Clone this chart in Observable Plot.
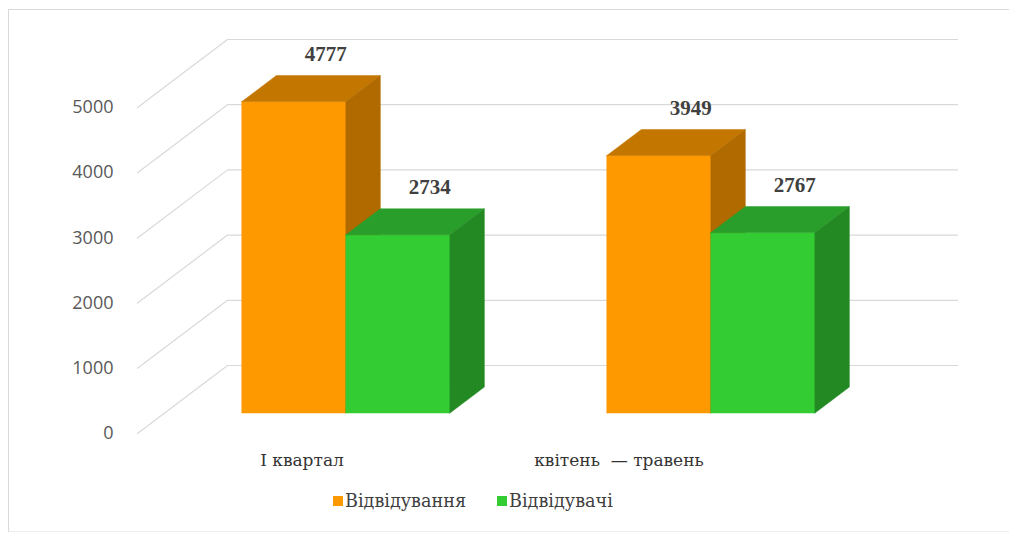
<!DOCTYPE html>
<html>
<head>
<meta charset="utf-8">
<script src="https://cdn.jsdelivr.net/npm/d3@7"></script>
<script src="https://cdn.jsdelivr.net/npm/@observablehq/plot@0.6"></script>
<style>
  html, body { margin: 0; padding: 0; background: #fff; }
  #wrap { position: relative; width: 1009px; height: 535px; overflow: hidden; }
  #frame { position: absolute; left: 8px; top: 9px; width: 1010px; height: 521px;
           border-left: 1px solid #d9d9d9; border-top: 1px solid #d9d9d9; border-bottom: 1px solid #eeeeee; }
  #chart { position: absolute; left: 0; top: 0; }
  #legend { position: absolute; left: 333px; top: 491px; display: flex; align-items: center;
            font-family: "DejaVu Serif", serif; font-size: 17.6px; color: #404040; }
  .item { display: flex; align-items: center; margin-right: 31px; }
  .sw { width: 10px; height: 10px; margin-right: 2px; }
</style>
</head>
<body>
<div id="wrap">
  <div id="frame"></div>
  <div id="chart"></div>
  <div id="legend"></div>
</div>
<script>
// ---- data ----
const categories = ["I квартал", "квітень  — травень"];
const seriesNames = ["Відвідування", "Відвідувачі"];
const visits = [4777, 3949];      // Відвідування
const visitors = [2734, 2767];    // Відвідувачі
const yTicks = [0, 1000, 2000, 3000, 4000, 5000];

// ---- styles / geometry of the 3D look ----
const frontColors = ["#ff9900", "#33cc33"];
const topColors   = ["#c47700", "#2a9e2a"];
const sideColors  = ["#b06a00", "#238a23"];
const serifCyr = "'DejaVu Serif', serif";
const DX = 90 / 365;     // full depth, x units
const DV = 1043;         // full depth, value units
const TF = 0.294;        // bar front depth
const TB = 0.676;        // bar back depth
const BW = 0.285;        // bar width in category units
const catLabelShift = [-18, -66];

const seriesValues = [visits, visitors];

const faceRows = [];
const labelRows = [];
categories.forEach((cat, i) => {
  seriesValues.forEach((vals, s) => {
    const val = vals[i];
    const a = i + 0.5 - BW + s * BW;
    const b = a + BW;
    const ap = a + TF * DX, bp = b + TF * DX;
    const base = TF * DV, V = val + TF * DV;
    const d = (TB - TF) * DX, e = (TB - TF) * DV;
    const id = `${i}-${s}`;
    faceRows.push({face: id + "f", fill: frontColors[s], x: ap, y1: base, y2: V});
    faceRows.push({face: id + "f", fill: frontColors[s], x: bp, y1: base, y2: V});
    faceRows.push({face: id + "t", fill: topColors[s], x: ap, y1: V, y2: V});
    faceRows.push({face: id + "t", fill: topColors[s], x: ap + d, y1: V, y2: V + e});
    faceRows.push({face: id + "t", fill: topColors[s], x: bp, y1: V, y2: V + e});
    faceRows.push({face: id + "t", fill: topColors[s], x: bp + d, y1: V + e, y2: V + e});
    faceRows.push({face: id + "s", fill: sideColors[s], x: bp, y1: base, y2: V});
    faceRows.push({face: id + "s", fill: sideColors[s], x: bp + d, y1: base + e, y2: V + e});
    labelRows.push({x: (ap + bp) / 2 + d, y: V + e, text: String(val)});
  });
});

const gridRows = [];
yTicks.forEach(v => {
  gridRows.push({tick: v, x: 0, y: v});
  gridRows.push({tick: v, x: DX, y: v + DV});
  gridRows.push({tick: v, x: 2 + DX, y: v + DV});
});

const catMarks = categories.map((c, i) => Plot.text([c], {
  x: () => i + 0.5, y: () => 0, text: d => d, dx: catLabelShift[i], dy: 27,
  fontFamily: serifCyr, fontSize: 17, fill: "#333333", textAnchor: "middle"
}));

const chart = Plot.plot({
  width: 1009,
  height: 480,
  marginLeft: 137,
  marginRight: 142,
  marginTop: 107,
  marginBottom: 47,
  style: {background: "transparent", overflow: "visible"},
  x: {domain: [0, 2], axis: null},
  y: {domain: [0, 5000], axis: null},
  color: {type: "identity"},
  marks: [
    Plot.line(gridRows, {x: "x", y: "y", z: "tick", stroke: "#d9d9d9", strokeWidth: 1.2}),
    Plot.areaY(faceRows, {x: "x", y1: "y1", y2: "y2", z: "face", fill: "fill", stroke: "fill", strokeWidth: 0.5}),
    Plot.text(yTicks, {x: () => 0, y: d => d, text: d => String(d), dx: -24, textAnchor: "end",
      fontFamily: "Open Sans", fontSize: 18, fill: "#595959"}),
    Plot.text(labelRows, {x: "x", y: "y", text: "text", dy: -22, dx: -3,
      fontFamily: "'Liberation Serif', serif", fontWeight: "bold", fontSize: 21, fill: "#404040"}),
    ...catMarks
  ]
});
document.getElementById("chart").appendChild(chart);

const legend = document.getElementById("legend");
seriesNames.forEach((n, s) => {
  const it = document.createElement("div");
  it.className = "item";
  it.innerHTML = `<span class="sw" style="background:${frontColors[s]}"></span><span>${n}</span>`;
  legend.appendChild(it);
});
</script>
</body>
</html>
